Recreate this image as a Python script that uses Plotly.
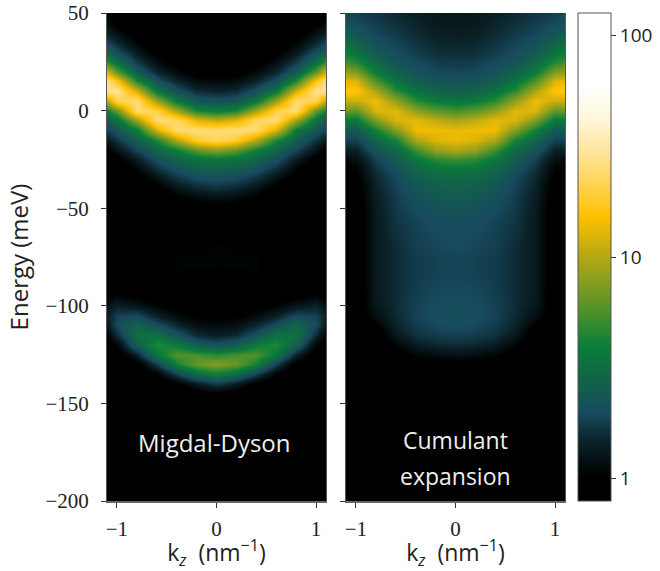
import plotly.graph_objects as go

# Energy rows (meV), top to bottom
energy = [50,45,40,35,30,25,20,15,10,5,0,-5,-10,-15,-20,-25,-30,-35,-40,-45,-50,
          -55,-60,-65,-70,-75,-80,-85,-90,-95,-100,-105,-110,-115,-120,-125,-130,-135,-140,-145,-150,-200]
# k_z columns (nm^-1), the spectra are symmetric about k_z = 0
k_half = [0, 0.2, 0.4, 0.6, 0.8, 1.0, 1.1]

# log10 intensity, one list per |k_z|, rows as in `energy`
md_k00 = [-.1,-.1,-.1,-.1,-.1,-.1,-.05,.05,.17,.33,.58,1.02,1.39,1.35,.9,.56,.43,.31,.2,.08,-.03,
          -.1,-.1,-.02,.03,.04,.02,-.08,-.1,-.1,-.08,-.02,.06,.15,.34,.68,.88,.6,.24,-.02,-.1,-.1]
md_k02 = [-.1,-.1,-.1,-.1,-.1,-.1,-.04,.07,.2,.36,.65,1.1,1.41,1.28,.8,.53,.4,.29,.17,.05,-.05,
          -.1,-.1,-.06,0,.02,.03,-.04,-.1,-.1,-.06,0,.08,.19,.4,.74,.82,.48,.13,-.05,-.1,-.1]
md_k04 = [-.1,-.1,-.1,-.1,-.1,-.04,.06,.17,.33,.56,.96,1.36,1.39,1.0,.6,.45,.33,.21,.09,-.01,-.08,
          -.1,-.1,-.08,-.02,.02,.03,0,-.1,-.1,-.03,.06,.18,.34,.58,.76,.62,.27,-.02,-.1,-.1,-.1]
md_k06 = [-.1,-.1,-.1,-.1,-.03,.07,.18,.33,.55,.93,1.32,1.41,1.09,.65,.45,.33,.21,.08,-.03,-.1,-.1,
          -.1,-.1,-.1,-.08,-.04,-.04,-.08,-.1,-.08,.03,.16,.32,.52,.66,.55,.26,.02,-.1,-.1,-.1,-.1]
md_k08 = [-.1,-.1,-.05,.02,.12,.24,.39,.65,1.07,1.4,1.4,.95,.58,.4,.28,.15,.03,-.07,-.1,-.1,-.1,
          -.1,-.1,-.1,-.1,-.1,-.1,-.1,-.1,-.02,.12,.3,.45,.52,.42,.16,-.03,-.1,-.1,-.1,-.1,-.1]
md_k10 = [-.08,-.02,.08,.18,.31,.5,.8,1.22,1.46,1.32,.8,.52,.36,.23,.1,-.03,-.1,-.1,-.1,-.1,-.1,
          -.1,-.1,-.1,-.1,-.1,-.1,-.1,-.06,.04,.16,.27,.3,.2,.03,-.08,-.1,-.1,-.1,-.1,-.1,-.1]
md_k11 = [-.02,.07,.16,.27,.43,.69,1.08,1.42,1.45,1.0,.6,.39,.27,.13,0,-.08,-.1,-.1,-.1,-.1,-.1,
          -.1,-.1,-.1,-.1,-.1,-.1,-.1,-.08,0,.1,.15,.12,.02,-.07,-.1,-.1,-.1,-.1,-.1,-.1,-.1]

ce_k00 = [.11,.12,.14,.17,.2,.24,.28,.34,.42,.54,.74,.97,1.13,1.14,.98,.72,.55,.47,.42,.39,.36,
          .33,.31,.31,.3,.28,.28,.28,.29,.3,.32,.33,.31,.27,.2,.09,-.02,-.09,-.1,-.1,-.1,-.1]
ce_k02 = [.12,.13,.15,.18,.21,.25,.29,.35,.44,.58,.8,1.02,1.15,1.1,.92,.68,.53,.45,.4,.37,.34,
          .31,.3,.29,.28,.27,.27,.27,.28,.29,.3,.31,.29,.25,.18,.07,-.03,-.09,-.1,-.1,-.1,-.1]
ce_k04 = [.15,.17,.19,.22,.25,.29,.34,.41,.52,.68,.92,1.12,1.15,.98,.72,.55,.46,.4,.36,.33,.31,
          .28,.27,.26,.26,.25,.25,.25,.25,.26,.27,.27,.25,.22,.14,.03,-.05,-.1,-.1,-.1,-.1,-.1]
ce_k06 = [.19,.21,.24,.27,.3,.35,.42,.52,.68,.92,1.12,1.1,.88,.62,.48,.39,.33,.29,.27,.25,.24,
          .23,.22,.21,.2,.2,.2,.2,.2,.2,.2,.19,.17,.12,.03,-.05,-.1,-.1,-.1,-.1,-.1,-.1]
ce_k08 = [.23,.25,.28,.32,.38,.46,.58,.75,.98,1.15,1.1,.88,.62,.46,.35,.27,.22,.18,.16,.15,.14,
          .13,.13,.13,.13,.13,.13,.13,.13,.13,.12,.08,0,-.06,-.1,-.1,-.1,-.1,-.1,-.1,-.1,-.1]
ce_k10 = [.26,.3,.36,.42,.53,.66,.86,1.1,1.2,1.05,.78,.55,.38,.26,.16,.08,.02,-.02,-.04,-.05,-.06,
          -.06,-.06,-.06,-.06,-.06,-.06,-.06,-.07,-.07,-.07,-.08,-.09,-.1,-.1,-.1,-.1,-.1,-.1,-.1,-.1,-.1]
ce_k11 = [.28,.33,.4,.48,.58,.72,.92,1.12,1.22,1.05,.82,.58,.4,.27,.16,.06,-.02,-.08,-.1,-.1,-.1,
          -.1,-.1,-.1,-.1,-.1,-.1,-.1,-.1,-.1,-.1,-.1,-.1,-.1,-.1,-.1,-.1,-.1,-.1,-.1,-.1,-.1]

md_cols = [md_k00, md_k02, md_k04, md_k06, md_k08, md_k10, md_k11]
ce_cols = [ce_k00, ce_k02, ce_k04, ce_k06, ce_k08, ce_k10, ce_k11]

x_ticks = [-1, 0, 1]
y_ticks = [-200, -150, -100, -50, 0, 50]
cb_ticks = [0, 1, 2]
cb_labels = ["1", "10", "100"]

colorscale = [
    [0.00, "#000000"], [0.05, "#000000"], [0.12, "#0a2127"], [0.18, "#174a5e"],
    [0.25, "#126448"], [0.316, "#0a7d3a"], [0.40, "#5a9428"], [0.50, "#b3a814"],
    [0.582, "#ffc000"], [0.65, "#ffd354"], [0.72, "#ffe7a0"], [0.78, "#fff5da"],
    [0.85, "#ffffff"], [1.00, "#ffffff"],
]

k_full = [-v for v in reversed(k_half[1:])] + k_half


def table(cols):
    full = list(reversed(cols[1:])) + cols
    return [[c[r] for c in full] for r in range(len(energy))]


W, H = 660, 571
X1 = (107, 326)
X2 = (346, 565)
Y = (13, 501)
LABEL = "Open Sans"
NUM = "Liberation Serif"

fig = go.Figure()
fig.add_trace(go.Heatmap(x=k_full, y=energy, z=table(md_cols), zsmooth="best",
                         coloraxis="coloraxis", xaxis="x", yaxis="y"))
fig.add_trace(go.Heatmap(x=k_full, y=energy, z=table(ce_cols), zsmooth="best",
                         coloraxis="coloraxis", xaxis="x2", yaxis="y2"))

ax_common = dict(
    range=[-1.1, 1.1], tickmode="array", tickvals=x_ticks, ticks="outside", ticklen=5,
    tickcolor="#333", tickwidth=1, showgrid=False, zeroline=False, showline=True,
    linecolor="#666", linewidth=2, mirror=False, ticklabelstandoff=3,
    tickfont=dict(family=NUM, size=21, color="#222"),
    title=dict(text="k<sub><i>z</i></sub>\u00a0 (nm<sup>−1</sup>)",
               font=dict(family=LABEL, size=23, color="#222"), standoff=8),
)
ay_common = dict(
    range=[-200, 50], tickmode="array", tickvals=y_ticks, ticks="outside", ticklen=5,
    tickcolor="#333", tickwidth=1, showgrid=False, zeroline=False, showline=True,
    linecolor="#555", linewidth=1, mirror=True,
)
fig.update_layout(
    width=W, height=H, margin=dict(l=0, r=0, t=0, b=0, autoexpand=False),
    paper_bgcolor="white", plot_bgcolor="black", showlegend=False,
    xaxis=dict(domain=[X1[0] / W, X1[1] / W], anchor="y", **ax_common),
    xaxis2=dict(domain=[X2[0] / W, X2[1] / W], anchor="y2", **ax_common),
    yaxis=dict(domain=[1 - Y[1] / H, 1 - Y[0] / H], anchor="x", ticklabelstandoff=8,
               tickfont=dict(family=NUM, size=21, color="#222"),
               title=dict(text="Energy (meV)", font=dict(family=LABEL, size=24, color="#222"), standoff=10),
               **ay_common),
    yaxis2=dict(domain=[1 - Y[1] / H, 1 - Y[0] / H], anchor="x2", showticklabels=False, **ay_common),
    coloraxis=dict(
        cmin=-0.1, cmax=2.1, colorscale=colorscale,
        colorbar=dict(
            x=578 / W, xanchor="left", xpad=0, y=1 - Y[0] / H, yanchor="top", ypad=0,
            lenmode="pixels", len=Y[1] - Y[0], thicknessmode="pixels", thickness=33,
            tickmode="array", tickvals=cb_ticks, ticktext=cb_labels, ticks="outside", ticklen=5,
            tickcolor="#333", outlinecolor="#555", outlinewidth=1, tickprefix="\u00a0",
            tickfont=dict(family=LABEL, size=19, color="#222"),
        ),
    ),
    annotations=[
        dict(text="Migdal-Dyson", x=-0.02, y=-170, xref="x", yref="y", showarrow=False,
             font=dict(family=LABEL, size=24, color="#eeeeee")),
        dict(text="Cumulant", x=0, y=-169, xref="x2", yref="y2", showarrow=False,
             font=dict(family=LABEL, size=23, color="#eeeeee")),
        dict(text="expansion", x=0, y=-187, xref="x2", yref="y2", showarrow=False,
             font=dict(family=LABEL, size=23, color="#eeeeee")),
    ],
)
# Drop the page's default 8 px margin so the 660x571 figure fills the window; hide the hover toolbar
fig.write_html("out.html", config={"displayModeBar": False},
               post_script="document.body.style.margin='0';")
